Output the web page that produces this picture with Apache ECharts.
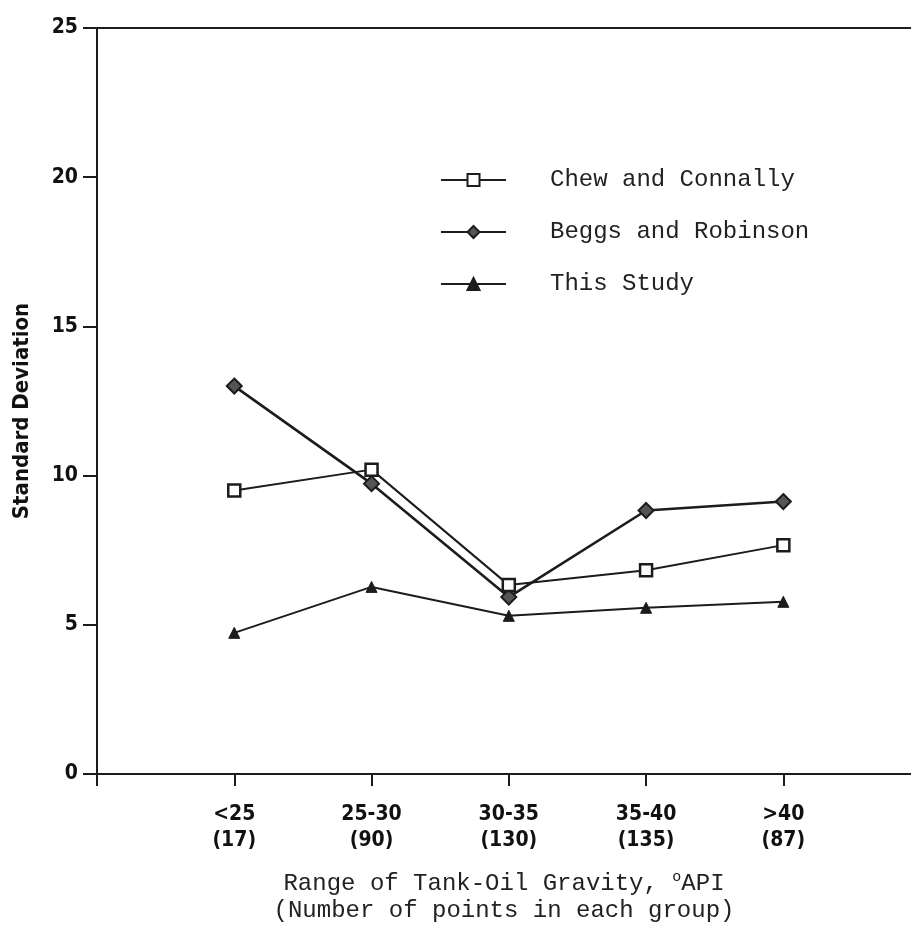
<!DOCTYPE html>
<html>
<head>
<meta charset="utf-8">
<script src="https://cdn.jsdelivr.net/npm/echarts@6/dist/echarts.min.js"></script>
<style>
html,body{margin:0;padding:0;background:#fff;overflow:hidden;width:100%;height:100%;}
#c{position:absolute;left:0;top:0;width:100vw;height:100vh;}
</style>
</head>
<body>
<div id="c"></div>
<script>
const categories = ['<25\n(17)', '25-30\n(90)', '30-35\n(130)', '35-40\n(135)', '>40\n(87)'];
const chewConnally = [9.5, 10.2, 6.33, 6.83, 7.67];
const beggsRobinson = [13.0, 9.73, 5.93, 8.83, 9.13];
const thisStudy = [4.73, 6.27, 5.3, 5.57, 5.77];
const seriesNames = ['Chew and Connally', 'Beggs and Robinson', 'This Study'];
const yTicks = [0, 5, 10, 15, 20, 25];

const ink = '#1c1c1c';
const condensed = '"Liberation Sans Narrow", "DejaVu Sans Condensed", "Noto Sans", sans-serif';
const mono = '"Liberation Mono", "DejaVu Sans Mono", monospace';

// categories sit at x = 1..5 on a slot axis that starts at 0 (the y axis)
const toPairs = arr => arr.map((v, i) => [i + 1, v]);
const catLabel = v => {
  const i = Math.round(v);
  return (Math.abs(v - i) < 1e-6 && i >= 1 && i <= categories.length) ? categories[i - 1] : '';
};

const chart = echarts.init(document.getElementById('c'));
chart.setOption({
  backgroundColor: '#fff',
  animation: false,
  grid: { left: 97, top: 28, right: 0, height: 750, containLabel: false },
  legend: {
    orient: 'vertical',
    left: 440,
    top: 167,
    padding: 0,
    itemWidth: 65,
    itemHeight: 15,
    itemGap: 26,
    data: seriesNames,
    textStyle: { fontFamily: mono, fontSize: 24, color: '#222', lineHeight: 26, padding: [0, 0, 0, 39] }
  },
  xAxis: [{
    type: 'value',
    min: 0, max: 5.93, interval: 1,
    axisLine: { show: true, onZero: false, lineStyle: { color: ink, width: 2 } },
    axisTick: { show: true, length: 12, lineStyle: { color: ink, width: 2 } },
    axisLabel: {
      margin: 28, color: '#111', showMaxLabel: false,
      fontFamily: condensed, fontWeight: 'bold', fontSize: 21, lineHeight: 26,
      formatter: catLabel
    },
    splitLine: { show: false },
    name: 'Range of Tank-Oil Gravity, {s|o}API\n(Number of points in each group)',
    nameLocation: 'middle',
    nameGap: 96,
    nameTextStyle: {
      fontFamily: mono, fontSize: 24, lineHeight: 27, color: '#222',
      rich: { s: { fontFamily: mono, fontSize: 15, verticalAlign: 'top', padding: [0, 0, 12, 0], color: '#222' } }
    }
  }, {
    type: 'value',
    min: 0, max: 5.93, interval: 1,
    position: 'top',
    axisLine: { show: true, onZero: false, lineStyle: { color: ink, width: 2 } },
    axisTick: { show: false },
    axisLabel: { show: false },
    splitLine: { show: false }
  }],
  yAxis: {
    type: 'value',
    min: 0, max: 25, interval: 5,
    axisLine: { show: true, onZero: false, lineStyle: { color: ink, width: 2 } },
    axisTick: { show: true, length: 14, lineStyle: { color: ink, width: 2 } },
    axisLabel: {
      margin: 19, color: '#111', fontFamily: condensed, fontWeight: 'bold', fontSize: 21,
      formatter: v => (yTicks.indexOf(v) >= 0 ? String(v) : '')
    },
    splitLine: { show: false },
    name: 'Standard Deviation',
    nameLocation: 'middle',
    nameGap: 64,
    nameTextStyle: { fontFamily: condensed, fontWeight: 'bold', fontSize: 22, color: '#111', padding: [0, 20, 0, 0] }
  },
  series: [{
    name: seriesNames[0], type: 'line', data: toPairs(chewConnally),
    symbol: 'rect', symbolSize: 12, showAllSymbol: true,
    lineStyle: { color: ink, width: 2 },
    itemStyle: { color: '#fff', borderColor: ink, borderWidth: 2.5 },
    z: 3
  }, {
    name: seriesNames[1], type: 'line', data: toPairs(beggsRobinson),
    symbol: 'diamond', symbolSize: 15, showAllSymbol: true,
    lineStyle: { color: ink, width: 2.6 },
    itemStyle: { color: '#555', borderColor: ink, borderWidth: 2 },
    z: 2
  }, {
    name: seriesNames[2], type: 'line', data: toPairs(thisStudy),
    symbol: 'triangle', symbolSize: 11, showAllSymbol: true,
    lineStyle: { color: ink, width: 2 },
    itemStyle: { color: ink, borderColor: ink, borderWidth: 1 },
    z: 2
  }]
});
</script>
</body>
</html>
